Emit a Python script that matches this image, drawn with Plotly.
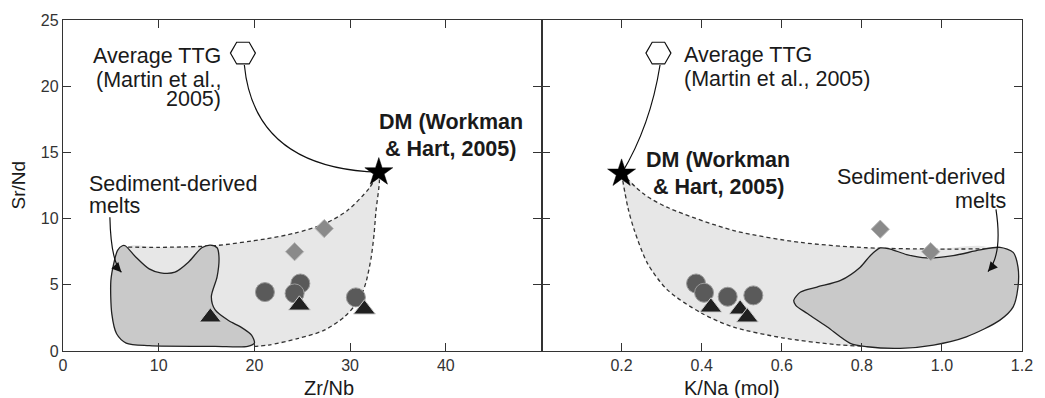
import plotly.graph_objects as go

# ---------------- data ----------------
# Left panel: Zr/Nb vs Sr/Nd
L_diam_x = [24.2, 27.3]
L_diam_y = [7.5, 9.25]
L_circ_x = [21.1, 24.8, 24.2, 30.6]
L_circ_y = [4.45, 5.1, 4.35, 4.05]
L_tri_x = [15.4, 24.7, 31.5]
L_tri_y = [2.55, 3.45, 3.15]
L_dm = (33.0, 13.5)
L_ttg = (18.8, 22.5)

# mixing envelope (dashed), left: upper edge ends at DM, lower edge starts at DM
LU_x = [6.8, 10.0, 15.9, 21.1, 24.2, 27.3, 29.7, 32.0, 33.0]
LU_y = [7.85, 7.83, 7.96, 8.46, 8.9, 9.6, 10.6, 12.3, 13.5]
LL_x = [33.0, 33.06, 32.7, 32.5, 32.2, 31.7, 31.3, 30.5, 29.4, 27.3, 24.6, 21.5, 19.8]
LL_y = [13.5, 12.8, 10.55, 8.8, 7.06, 5.3, 4.45, 3.45, 2.57, 1.57, 0.95, 0.45, 0.35]
LF_in_x = [15.0, 8.0]
LF_in_y = [2.0, 4.0]

# sediment-derived melts field, left
LD_x = [6.5, 7.6, 9.0, 10.2, 11.7, 13.1, 14.5, 15.4, 16.1, 16.3, 16.1, 15.5, 15.9, 17.3,
        18.6, 19.7, 20.0, 19.3, 15.9, 9.0, 6.6, 5.6, 5.1, 5.0, 5.3, 5.7, 6.2, 6.5]
LD_y = [7.95, 7.1, 6.2, 5.9, 5.95, 6.7, 7.8, 8.0, 7.8, 7.1, 5.6, 4.1, 3.1, 2.3,
        1.8, 1.2, 0.6, 0.35, 0.35, 0.4, 0.6, 1.3, 2.8, 5.3, 6.6, 7.6, 7.95, 7.95]

# Right panel: K/Na (mol) vs Sr/Nd
R_diam_x = [0.846, 0.972]
R_diam_y = [9.2, 7.5]
R_circ_x = [0.386, 0.406, 0.465, 0.529]
R_circ_y = [5.1, 4.4, 4.1, 4.2]
R_tri_x = [0.423, 0.496, 0.514]
R_tri_y = [3.3, 3.15, 2.55]
R_dm = (0.2, 13.4)
R_ttg = (0.292, 22.5)

# mixing envelope (dashed), right: both edges start at DM
RU_x = [0.2, 0.258, 0.318, 0.48, 0.647, 0.812, 0.98, 1.12]
RU_y = [13.4, 11.8, 10.8, 9.1, 8.2, 7.8, 7.7, 7.72]
RL_x = [0.2, 0.216, 0.232, 0.265, 0.315, 0.4, 0.48, 0.605, 0.73, 0.81]
RL_y = [13.4, 10.8, 9.1, 6.6, 4.6, 2.85, 1.8, 0.98, 0.5, 0.35]
RF_in_x = [1.1, 0.9]
RF_in_y = [4.0, 1.0]

RD_x = [0.630, 0.647, 0.688, 0.747, 0.796, 0.821, 0.846, 0.871, 0.912, 0.962, 1.028, 1.095,
        1.145, 1.178, 1.19, 1.19, 1.178, 1.145, 1.061, 0.979, 0.896, 0.813, 0.771, 0.713,
        0.664, 0.635, 0.630]
RD_y = [3.83, 4.45, 4.83, 5.33, 6.33, 7.2, 7.78, 7.7, 7.28, 7.03, 7.2, 7.63,
        7.83, 7.45, 6.33, 4.83, 3.33, 2.33, 1.07, 0.45, 0.2, 0.32, 0.58, 1.83,
        2.83, 3.45, 3.83]

# connector curves (start, control, end) and arrows
L_conn = [(18.95, 21.6), (20.0, 13.8), (33.0, 13.5)]
R_conn = [(0.296, 21.6), (0.272, 17.0), (0.2, 13.4)]
L_arrow = [(4.9, 10.1), (5.0, 6.8), (6.1, 5.95)]
R_arrow = [(1.135, 10.7), (1.152, 7.3), (1.115, 6.0)]

L_xticks = [0, 10, 20, 30, 40]
R_xticks = [0.2, 0.4, 0.6, 0.8, 1.0, 1.2]
R_xticklabels = ["0.2", "0.4", "0.6", "0.8", "1.0", "1.2"]
y_ticks = [0, 5, 10, 15, 20, 25]

# ---------------- styling ----------------
FONT = "Liberation Sans, Arial, Helvetica, sans-serif"
TXT = "#1a1a1a"
AX = "#333333"
LIGHT = "#e7e7e7"
DARK = "#c9c9c9"
ANN = 21.5

fig = go.Figure()

# envelope fill outlines (closed polygons built from the edges above)
L_fill_x = LU_x + LL_x[1:] + LF_in_x + [LU_x[0]]
L_fill_y = LU_y + LL_y[1:] + LF_in_y + [LU_y[0]]
R_fill_x = RU_x + RF_in_x + RL_x[::-1]
R_fill_y = RU_y + RF_in_y + RL_y[::-1]


def panel(xa, ya, fx, fy, U_x, U_y, Lo_x, Lo_y, D_x, D_y,
          dx, dy, cx, cy, tx, ty, dm, ttg):
    fig.add_trace(go.Scatter(x=fx, y=fy, xaxis=xa, yaxis=ya, mode="lines", fill="toself",
                             fillcolor=LIGHT, line=dict(width=0, shape="spline", smoothing=0.8),
                             hoverinfo="skip", showlegend=False))
    for X, Y in ((U_x, U_y), (Lo_x, Lo_y)):
        fig.add_trace(go.Scatter(x=X, y=Y, xaxis=xa, yaxis=ya, mode="lines",
                                 line=dict(color=AX, width=1.3, dash="4px,3px",
                                           shape="spline", smoothing=0.8),
                                 hoverinfo="skip", showlegend=False))
    fig.add_trace(go.Scatter(x=D_x, y=D_y, xaxis=xa, yaxis=ya, mode="lines", fill="toself",
                             fillcolor=DARK,
                             line=dict(color="#222222", width=1.3, shape="spline", smoothing=0.8),
                             hoverinfo="skip", showlegend=False))
    fig.add_trace(go.Scatter(x=dx, y=dy, xaxis=xa, yaxis=ya, mode="markers",
                             marker=dict(symbol="diamond", size=14, color="#8a8a8a",
                                         line=dict(color="#b5b5b5", width=1)),
                             showlegend=False))
    fig.add_trace(go.Scatter(x=cx, y=cy, xaxis=xa, yaxis=ya, mode="markers",
                             marker=dict(symbol="circle", size=19, color="#5a5a5a",
                                         line=dict(color="#9a9a9a", width=1)),
                             showlegend=False))
    fig.add_trace(go.Scatter(x=tx, y=ty, xaxis=xa, yaxis=ya, mode="markers",
                             marker=dict(symbol="triangle-up", size=19, color="#202020",
                                         line=dict(color="#cfcfcf", width=1)),
                             showlegend=False))
    fig.add_trace(go.Scatter(x=[dm[0]], y=[dm[1]], xaxis=xa, yaxis=ya, mode="markers",
                             marker=dict(symbol="star", size=21, color="#000000",
                                         line=dict(color="#000000", width=0.5)),
                             showlegend=False))
    fig.add_trace(go.Scatter(x=[ttg[0]], y=[ttg[1]], xaxis=xa, yaxis=ya, mode="markers",
                             marker=dict(symbol="hexagon2", size=25, color="#ffffff",
                                         line=dict(color="#111111", width=1.2)),
                             showlegend=False))


panel("x", "y", L_fill_x, L_fill_y, LU_x, LU_y, LL_x, LL_y, LD_x, LD_y,
      L_diam_x, L_diam_y, L_circ_x, L_circ_y, L_tri_x, L_tri_y, L_dm, L_ttg)
panel("x2", "y2", R_fill_x, R_fill_y, RU_x, RU_y, RL_x, RL_y, RD_x, RD_y,
      R_diam_x, R_diam_y, R_circ_x, R_circ_y, R_tri_x, R_tri_y, R_dm, R_ttg)


def qpath(p):
    return "M {},{} Q {},{} {},{}".format(p[0][0], p[0][1], p[1][0], p[1][1], p[2][0], p[2][1])


shapes = [
    dict(type="path", path=qpath(L_conn), xref="x", yref="y", line=dict(color="#111", width=1.2), layer="below"),
    dict(type="path", path=qpath(R_conn), xref="x2", yref="y2", line=dict(color="#111", width=1.2), layer="below"),
    dict(type="path", path=qpath(L_arrow), xref="x", yref="y", line=dict(color="#111", width=1.2)),
    dict(type="path", path=qpath(R_arrow), xref="x2", yref="y2", line=dict(color="#111", width=1.2)),
]

annotations = []


def txt(text, x, y, xref, yref, xanchor="center", bold=False, size=ANN):
    annotations.append(dict(text=("<b>%s</b>" % text) if bold else text, x=x, y=y, xref=xref, yref=yref,
                            xanchor=xanchor, yanchor="middle", showarrow=False,
                            font=dict(family=FONT, size=size, color=TXT)))


# left panel labels
txt("Average TTG", 16.7, 22.3, "x", "y", "right")
txt("(Martin et al.,", 16.7, 20.5, "x", "y", "right")
txt("2005)", 16.7, 19.0, "x", "y", "right")
txt("DM (Workman", 40.5, 17.3, "x", "y", "center", bold=True)
txt("& Hart, 2005)", 40.5, 15.25, "x", "y", "center", bold=True)
txt("Sediment-derived", 2.5, 12.6, "x", "y", "left")
txt("melts", 2.5, 10.93, "x", "y", "left")
# right panel labels
txt("Average TTG", 0.352, 22.38, "x2", "y2", "left")
txt("(Martin et al., 2005)", 0.352, 20.58, "x2", "y2", "left")
txt("DM (Workman", 0.441, 14.4, "x2", "y2", "center", bold=True)
txt("& Hart, 2005)", 0.441, 12.4, "x2", "y2", "center", bold=True)
txt("Sediment-derived", 1.165, 13.15, "x2", "y2", "right")
txt("melts", 1.165, 11.3, "x2", "y2", "right")

# arrowheads
for (p, xr, yr) in ((L_arrow, "x", "y"), (R_arrow, "x2", "y2")):
    annotations.append(dict(x=p[2][0], y=p[2][1], ax=p[1][0] + (p[2][0] - p[1][0]) * 0.6,
                            ay=p[1][1] + (p[2][1] - p[1][1]) * 0.6,
                            xref=xr, yref=yr, axref=xr, ayref=yr, text="", showarrow=True,
                            arrowhead=2, arrowsize=1.6, arrowwidth=1.2, arrowcolor="#111"))

# axis titles
D1 = 482 / 966
annotations.append(dict(text="Zr/Nb", x=D1 / 2, y=0, xref="paper", yref="paper", yanchor="middle",
                        yshift=-37, showarrow=False, font=dict(family=FONT, size=20, color=TXT)))
annotations.append(dict(text="K/Na (mol)", x=(1 + D1) / 2, y=0, xref="paper", yref="paper",
                        yanchor="middle", yshift=-37, showarrow=False,
                        font=dict(family=FONT, size=20, color=TXT)))
annotations.append(dict(text="Sr/Nd", x=0, y=0.5, xref="paper", yref="paper", xanchor="center",
                        xshift=-45, textangle=-90, showarrow=False,
                        font=dict(family=FONT, size=19, color=TXT)))

axis_common = dict(showgrid=False, zeroline=False, showline=True, linecolor=AX, linewidth=1.3,
                   mirror="ticks", ticks="inside", ticklen=8, tickwidth=1.2, tickcolor=AX,
                   tickfont=dict(family=FONT, size=16, color="#333333"))

fig.update_layout(
    width=1045, height=398,
    margin=dict(l=63, r=16, t=17, b=47),
    paper_bgcolor="white", plot_bgcolor="white",
    xaxis=dict(domain=[0, D1], range=[0, 50], tickvals=L_xticks, anchor="y", **axis_common),
    yaxis=dict(range=[0, 25], tickvals=y_ticks, anchor="x", **axis_common),
    xaxis2=dict(domain=[D1, 1], range=[0, 1.2], tickvals=R_xticks, ticktext=R_xticklabels,
                anchor="y2", **axis_common),
    yaxis2=dict(range=[0, 25], tickvals=y_ticks, anchor="x2", showticklabels=False, **axis_common),
    shapes=shapes,
    annotations=annotations,
    showlegend=False,
)

fig.write_html("out.html", config={"displayModeBar": False},
               post_script="document.body.style.margin='0px';document.body.style.overflow='hidden';")
